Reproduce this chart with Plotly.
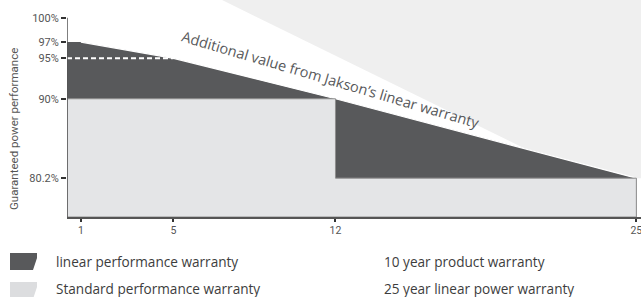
import numpy as np
import plotly.graph_objects as go

# ---- data ----
years = [1, 5, 12, 25]
linear_perf = [97, 95, 90, 80.2]          # linear performance warranty
standard_steps_x = [12, 25]                # standard (step) warranty ends
standard_steps_y = [90, 80.2]
dash_level = 95
ytick_vals = [100, 97, 95, 90, 80.2]
ytick_text = ["100%", "97%", "95%", "90%", "80.2%"]
xtick_vals = [1, 5, 12, 25]
xtick_text = ["1", "5", "12", "25"]
legend_left = ["linear performance warranty", "Standard performance warranty"]
legend_right = ["10 year product warranty", "25 year linear power warranty"]

# ---- style ----
DARK = "#58595b"
LIGHT = "#e4e5e7"
BGGRAY = "#efefef"
AXIS = "#555555"
TXT = "#555555"
FONT = "Open Sans, DejaVu Sans, sans-serif"
TICKFONT = "Roboto, DejaVu Sans, sans-serif"

xr = [0.4, 25.2]
yr = [75.4, 102.2]
x0, y0 = xr[0], yr[0]

W, H = 641, 297
ML, MT, MB = 67, 0, 80
PW, PH = W - ML, H - MT - MB


def PX(px):
    return (px - ML) / PW


def PY(py):
    return (MT + PH - py) / PH


fig = go.Figure()

# dark: linear performance warranty area
dx = [x0, x0] + years + [years[-1]]
dy = [y0, linear_perf[0]] + linear_perf + [y0]
fig.add_trace(go.Scatter(x=dx, y=dy, fill="toself", fillcolor=DARK,
                         line=dict(width=0), mode="lines", hoverinfo="skip",
                         showlegend=False))
# white separation line along the top edge
fig.add_trace(go.Scatter(x=years, y=linear_perf, mode="lines",
                         line=dict(color="white", width=1.2),
                         hoverinfo="skip", showlegend=False))

# light: standard step warranty
sx = [x0, x0, standard_steps_x[0], standard_steps_x[0],
      standard_steps_x[1], standard_steps_x[1], x0]
sy = [y0, standard_steps_y[0], standard_steps_y[0], standard_steps_y[1],
      standard_steps_y[1], y0, y0]
fig.add_trace(go.Scatter(x=sx, y=sy, fill="toself", fillcolor=LIGHT,
                         line=dict(color="#8e8e8e", width=1), mode="lines",
                         hoverinfo="skip", showlegend=False))

# dashed 95% line
fig.add_trace(go.Scatter(x=[x0, years[1]], y=[dash_level, dash_level],
                         mode="lines",
                         line=dict(color="white", width=2, dash="5px,3px"),
                         hoverinfo="skip", showlegend=False))

# background gray wedge (top right)
join_x = 20.2
join_y = float(np.interp(join_x, years, linear_perf))
bg_path = (f"M 7.1,{yr[1]} L {xr[1]},{yr[1]} L {xr[1]},{linear_perf[-1]} "
           f"L {years[-1]},{linear_perf[-1]} L {join_x},{join_y} Z")
shapes = [dict(type="path", path=bg_path, xref="x", yref="y",
               fillcolor=BGGRAY, line=dict(width=0), layer="below")]

# y axis line from 100% down
shapes.append(dict(type="line", xref="x", yref="y", x0=x0, x1=x0,
                   y0=ytick_vals[0], y1=y0, line=dict(color=AXIS, width=1.5)))


# legend swatches
def swatch(top, color):
    l, r, b = 10, 37, top + 17
    p = (f"M {PX(l)},{PY(top)} L {PX(r)},{PY(top)} L {PX(r)},{PY(top + 5)} "
         f"L {PX(r - 4)},{PY(b)} L {PX(l)},{PY(b)} Z")
    return dict(type="path", path=p, xref="paper", yref="paper",
                fillcolor=color, line=dict(width=0))


shapes.append(swatch(253, DARK))
shapes.append(swatch(282, "#dcdddf"))

annotations = [
    dict(text="Additional value from Jakson’s linear warranty", x=11.8, y=92.4,
         xref="x", yref="y", showarrow=False, textangle=16.4,
         xanchor="center", yanchor="middle",
         font=dict(family=FONT, size=14.5, color=DARK)),
    dict(text="Guaranteed power performance", x=PX(14), y=PY(129),
         xref="paper", yref="paper", showarrow=False, textangle=-90,
         xanchor="center", yanchor="middle",
         font=dict(family=TICKFONT, size=11.5, color=TXT)),
]
legend_rows_y = [261, 288]
for i, t in enumerate(legend_left):
    annotations.append(dict(text=t, x=PX(54), y=PY(legend_rows_y[i]),
                            xref="paper", yref="paper", xanchor="left",
                            yanchor="middle", showarrow=False,
                            font=dict(family=FONT, size=13.6, color="#3d3d3d")))
for i, t in enumerate(legend_right):
    annotations.append(dict(text=t, x=PX(382), y=PY(legend_rows_y[i]),
                            xref="paper", yref="paper", xanchor="left",
                            yanchor="middle", showarrow=False,
                            font=dict(family=FONT, size=13.6, color="#3d3d3d")))

fig.update_layout(
    width=W, height=H,
    margin=dict(l=ML, r=0, t=MT, b=MB),
    paper_bgcolor="white", plot_bgcolor="white",
    showlegend=False,
    shapes=shapes,
    annotations=annotations,
    xaxis=dict(range=xr, tickvals=xtick_vals, ticktext=xtick_text,
               showgrid=False, zeroline=False, showline=True,
               linecolor=AXIS, linewidth=1.5, ticks="outside", ticklen=3,
               tickcolor="#333", tickwidth=1.5, ticklabeloverflow="allow",
               tickfont=dict(family=TICKFONT, size=10.5, color=TXT)),
    yaxis=dict(range=yr, tickvals=ytick_vals, ticktext=ytick_text,
               showgrid=False, zeroline=False, showline=False,
               ticks="outside", ticklen=5, tickcolor="#333", tickwidth=1.5,
               tickfont=dict(family=TICKFONT, size=11, color=TXT)),
)

fig.write_html("out.html", config={"displayModeBar": False})

# remove the browser's default body margin so the figure sits at (0, 0)
with open("out.html", "r", encoding="utf-8") as f:
    html = f.read()
html = html.replace("<body>", '<body style="margin:0;overflow:hidden">', 1)
with open("out.html", "w", encoding="utf-8") as f:
    f.write(html)
